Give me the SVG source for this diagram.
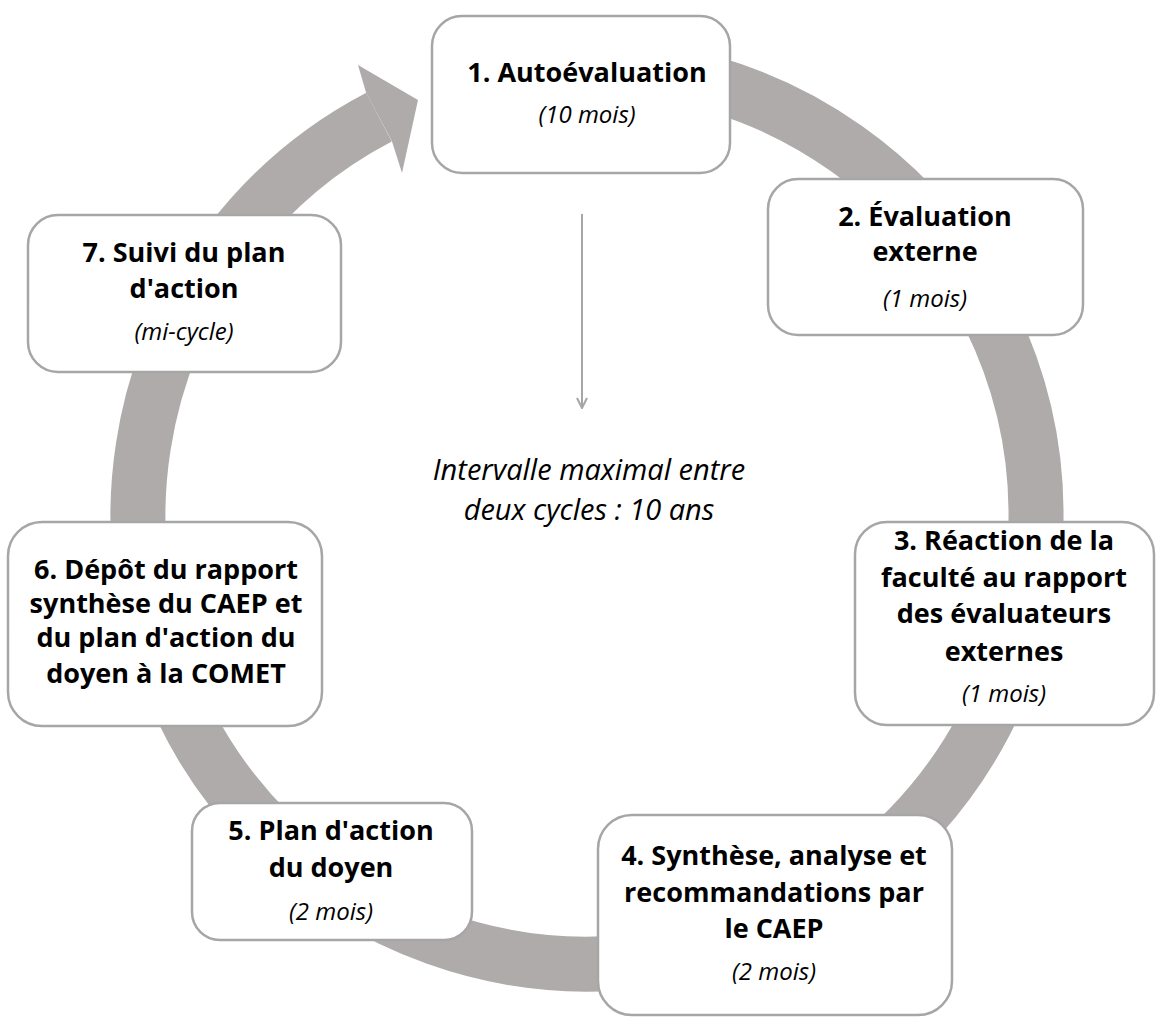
<svg xmlns="http://www.w3.org/2000/svg" width="1156" height="1017" viewBox="0 0 1156 1017">
<style>
.box{fill:#ffffff;stroke:#a6a6a6;stroke-width:2.5}
.t{font-family:"Open Sans","Noto Sans","Liberation Sans",sans-serif;font-weight:bold;font-size:27px;fill:#000;text-anchor:middle}
.i{font-family:"Open Sans","Noto Sans","Liberation Sans",sans-serif;font-style:italic;font-size:24px;fill:#000;text-anchor:middle}
.c{font-family:"Open Sans","Noto Sans","Liberation Sans",sans-serif;font-style:italic;font-size:29px;fill:#000;text-anchor:middle}
</style>
<defs>
<marker id="arr" viewBox="0 0 12 12" refX="11" refY="6" markerWidth="12" markerHeight="12" markerUnits="userSpaceOnUse" orient="auto">
<path d="M1,1 L11,6 L1,11" fill="none" stroke="#a6a6a6" stroke-width="2"/>
</marker>
</defs>
<g id="connectors">
<path id="cycle" d="M664.97,72.82 A449,449 0 1 1 379.0,117.1" fill="none" stroke="#afabab" stroke-width="55"/>
<polygon points="366,92.5 358,65 418,100 402,173 392,141.5" fill="#afabab"/>
<line x1="582" y1="214" x2="582" y2="408" stroke="#a6a6a6" stroke-width="2" marker-end="url(#arr)"/>
</g>
<g id="node1">
<rect class="box" x="432" y="16" width="298" height="157" rx="30"/>
<text class="t" x="587" y="82">1. Autoévaluation</text>
<text class="i" x="587" y="123">(10 mois)</text>
</g>
<g id="node2">
<rect class="box" x="768" y="179" width="315" height="156" rx="30"/>
<text class="t" x="925" y="226">2. Évaluation</text>
<text class="t" x="925" y="261">externe</text>
<text class="i" x="925" y="307">(1 mois)</text>
</g>
<g id="node3">
<rect class="box" x="855" y="522" width="299" height="203" rx="32"/>
<text class="t" x="1004" y="550">3. Réaction de la</text>
<text class="t" x="1004" y="587">faculté au rapport</text>
<text class="t" x="1004" y="623">des évaluateurs</text>
<text class="t" x="1004" y="661">externes</text>
<text class="i" x="1004" y="702">(1 mois)</text>
</g>
<g id="node4">
<rect class="box" x="598" y="815" width="354" height="200" rx="34"/>
<text class="t" x="774" y="865">4. Synthèse, analyse et</text>
<text class="t" x="774" y="902">recommandations par</text>
<text class="t" x="774" y="938">le CAEP</text>
<text class="i" x="774" y="980">(2 mois)</text>
</g>
<g id="node5">
<rect class="box" x="192" y="803" width="280" height="137" rx="28"/>
<text class="t" x="331" y="840">5. Plan d'action</text>
<text class="t" x="331" y="877">du doyen</text>
<text class="i" x="331" y="920">(2 mois)</text>
</g>
<g id="node6">
<rect class="box" x="8" y="522" width="314" height="204" rx="34"/>
<text class="t" x="166" y="579">6. Dépôt du rapport</text>
<text class="t" x="166" y="613">synthèse du CAEP et</text>
<text class="t" x="166" y="647">du plan d'action du</text>
<text class="t" x="166" y="683">doyen à la COMET</text>
</g>
<g id="node7">
<rect class="box" x="28" y="215" width="313" height="157" rx="30"/>
<text class="t" x="184" y="262">7. Suivi du plan</text>
<text class="t" x="184" y="298">d'action</text>
<text class="i" x="184" y="340">(mi-cycle)</text>
</g>
<g id="center">
<text class="c" x="589" y="480">Intervalle maximal entre</text>
<text class="c" x="589" y="520">deux cycles : 10 ans</text>
</g>
</svg>
